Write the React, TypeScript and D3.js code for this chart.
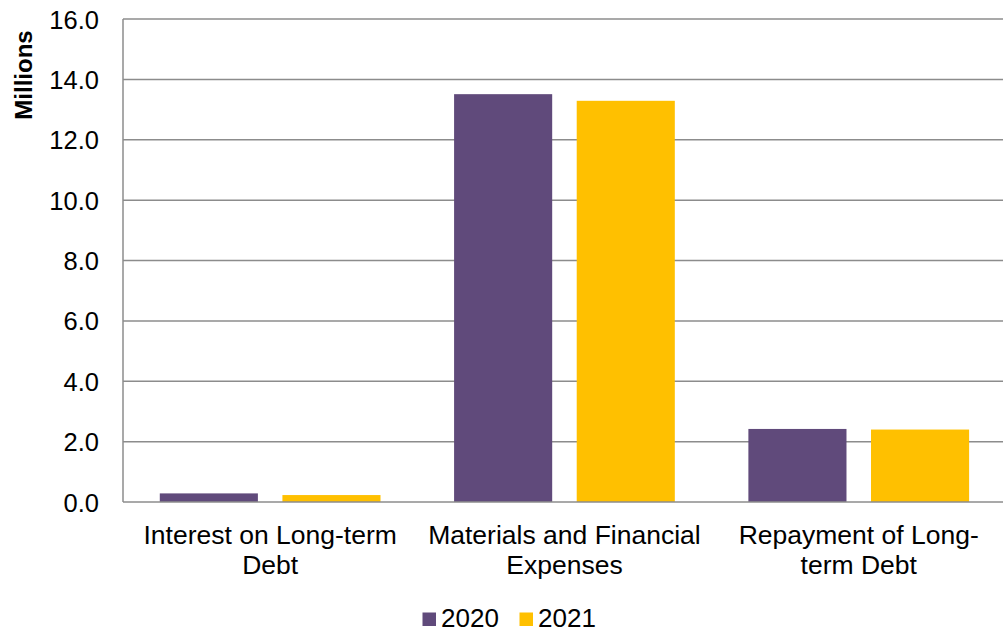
import React from "react";
import * as d3 from "d3";

const categories = ["Interest on Long-term Debt", "Materials and Financial Expenses", "Repayment of Long-term Debt"];
const categoryLines = [["Interest on Long-term", "Debt"], ["Materials and Financial", "Expenses"], ["Repayment of Long-", "term Debt"]];
const seriesNames = ["2020", "2021"];
const values2020 = [0.285, 13.51, 2.42];
const values2021 = [0.23, 13.29, 2.4];
const yTicks = [0, 2, 4, 6, 8, 10, 12, 14, 16];
const colors = ["#604A7B", "#FFC000"];

export default function App() {
  const W = 1003, H = 632;
  const left = 123, right = 123 + 3 * 294.3, top = 19, bottom = 502;
  const x = d3.scaleBand<string>().domain(categories).range([left, right]).paddingInner(0).paddingOuter(0);
  const x1 = d3.scaleBand<string>().domain(seriesNames).range([0, x.bandwidth()]).paddingInner(0.2).paddingOuter(0.3);
  const y = d3.scaleLinear().domain([0, 16]).range([bottom, top]);
  const series = [values2020, values2021];
  const font = "Liberation Sans, Arial, sans-serif";
  return (
    <svg width={W} height={H} style={{ position: "absolute", left: 0, top: 0 }} fontFamily={font}>
      <rect width={W} height={H} fill="#fff" />
      {yTicks.map((t) => (
        <g key={t}>
          {t > 0 && <line x1={left} x2={right} y1={y(t)} y2={y(t)} stroke="#8c8c8c" strokeWidth={1.5} />}
          <text x={99} y={y(t) + 9.5} textAnchor="end" fontSize={25.5} fill="#000">{t.toFixed(1)}</text>
        </g>
      ))}
      {categories.map((c, i) => (
        <g key={c}>
          {series.map((s, j) => (
            <rect key={j} x={(x(c) as number) + (x1(seriesNames[j]) as number)} y={y(s[i])}
              width={x1.bandwidth()} height={y(0) - y(s[i])} fill={colors[j]} />
          ))}
          {categoryLines[i].map((ln, k) => (
            <text key={k} x={(x(c) as number) + x.bandwidth() / 2} y={544 + k * 30} textAnchor="middle" fontSize={26.5} fill="#000">{ln}</text>
          ))}
        </g>
      ))}
      <line x1={left} x2={left} y1={top} y2={bottom} stroke="#8c8c8c" strokeWidth={1.5} />
      <line x1={left} x2={right} y1={bottom} y2={bottom} stroke="#8c8c8c" strokeWidth={1.5} />
      <text transform={`translate(32,75) rotate(-90)`} textAnchor="middle" fontSize={24} fontWeight="bold" fill="#000">Millions</text>
      {seriesNames.map((s, j) => (
        <g key={s} transform={`translate(${422.5 + j * 97},0)`}>
          <rect x={0} y={612.5} width={13.5} height={13.5} fill={colors[j]} />
          <text x={18.5} y={627} fontSize={26} fill="#000">{s}</text>
        </g>
      ))}
    </svg>
  );
}
